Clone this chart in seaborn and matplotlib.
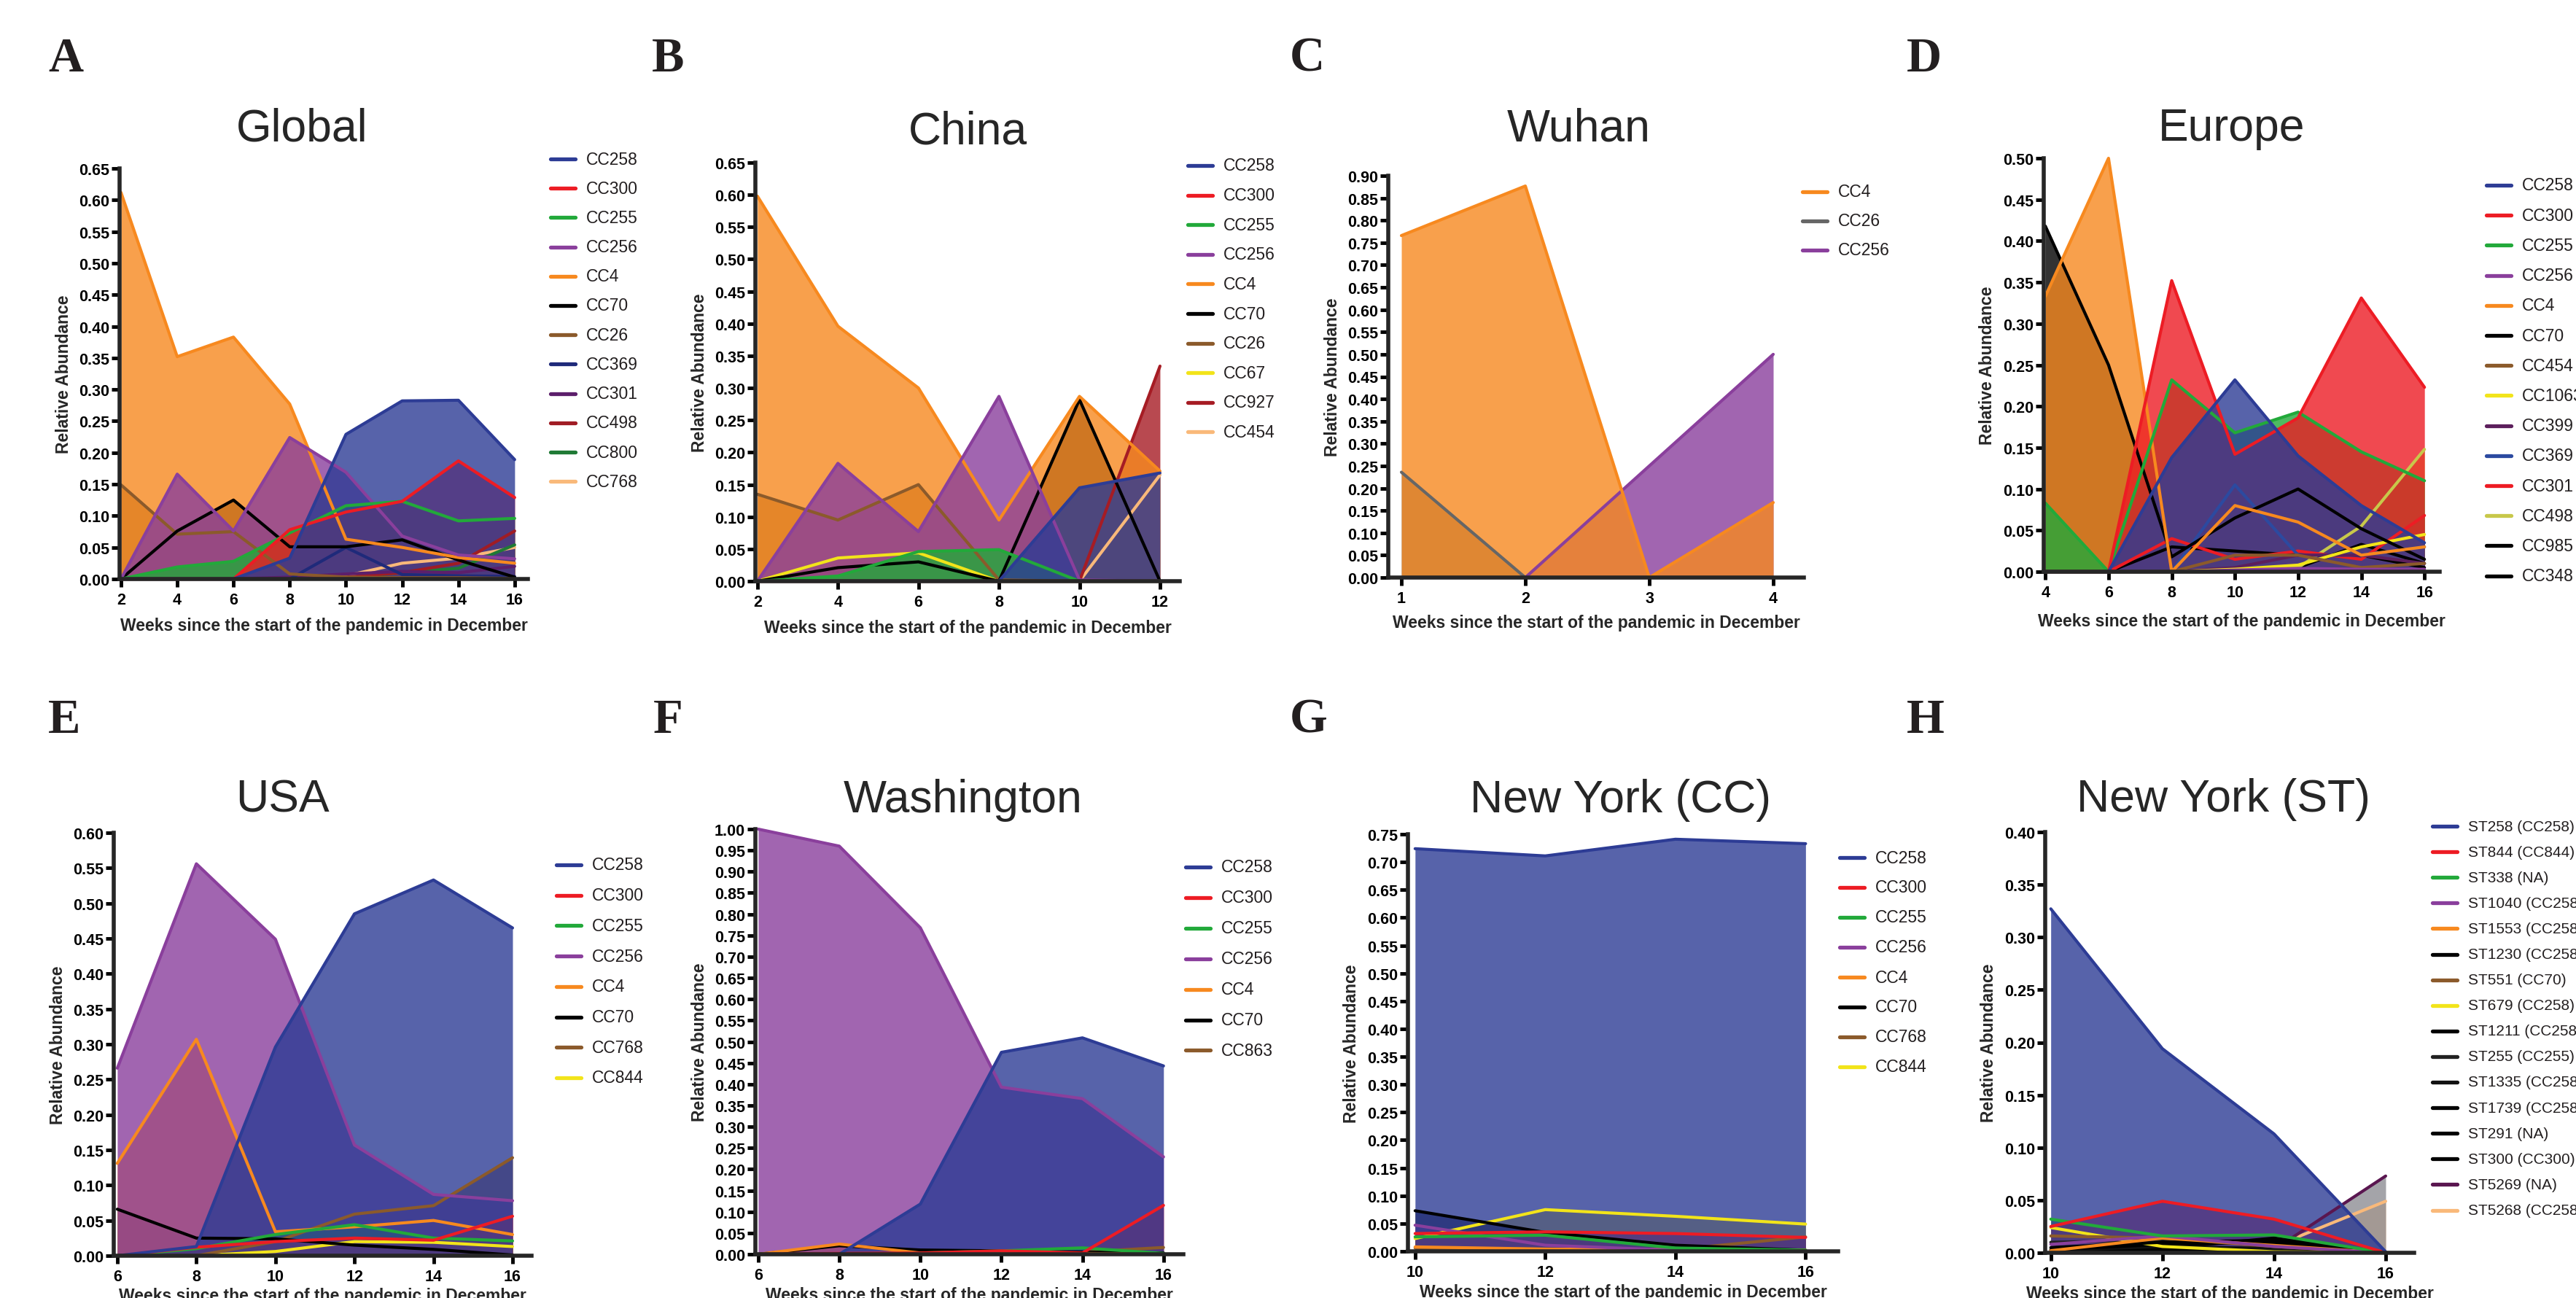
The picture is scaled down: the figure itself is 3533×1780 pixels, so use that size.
import numpy as np
import seaborn as sns
import matplotlib.pyplot as plt
from matplotlib.lines import Line2D

W, H = 3533, 1781

# ---------------- data ----------------
global_weeks = [2, 4, 6, 8, 10, 12, 14, 16]
global_labels = ["CC258", "CC300", "CC255", "CC256", "CC4", "CC70", "CC26",
                 "CC369", "CC301", "CC498", "CC800", "CC768"]
global_values = [
    [0, 0, 0, 0.033, 0.229, 0.282, 0.283, 0.189],
    [0, 0, 0, 0.078, 0.106, 0.123, 0.187, 0.129],
    [0, 0.019, 0.028, 0.073, 0.116, 0.123, 0.092, 0.096],
    [0, 0.166, 0.076, 0.224, 0.169, 0.068, 0.038, 0.032],
    [0.612, 0.352, 0.383, 0.277, 0.063, 0.050, 0.034, 0.025],
    [0, 0.076, 0.125, 0.051, 0.051, 0.062, 0.030, 0.003],
    [0.149, 0.071, 0.075, 0.008, 0.003, 0.002, 0.002, 0.001],
    [0, 0, 0, 0, 0.050, 0.007, 0.005, 0.004],
    [0, 0, 0, 0.003, 0.008, 0.012, 0.010, 0.020],
    [0, 0, 0, 0, 0.003, 0.010, 0.025, 0.076],
    [0, 0, 0, 0, 0.002, 0.010, 0.017, 0.054],
    [0, 0, 0, 0, 0.005, 0.025, 0.033, 0.050],
]

china_weeks = [2, 4, 6, 8, 10, 12]
china_labels = ["CC258", "CC300", "CC255", "CC256", "CC4", "CC70", "CC26",
                "CC67", "CC927", "CC454"]
china_values = [
    [0, 0, 0, 0, 0.145, 0.168],
    [0, 0, 0, 0, 0, 0],
    [0, 0.008, 0.046, 0.049, 0, 0],
    [0, 0.183, 0.077, 0.287, 0.002, 0],
    [0.598, 0.396, 0.300, 0.095, 0.287, 0.171],
    [0, 0.021, 0.030, 0, 0.282, 0],
    [0.135, 0.095, 0.150, 0.002, 0, 0],
    [0, 0.036, 0.044, 0, 0, 0],
    [0, 0, 0, 0, 0, 0.334],
    [0, 0, 0, 0, 0, 0.165],
]

wuhan_weeks = [1, 2, 3, 4]
wuhan_labels = ["CC4", "CC26", "CC256"]
wuhan_values = [
    [0.766, 0.877, 0, 0.168],
    [0.236, 0, 0, 0],
    [0, 0, 0.25, 0.50],
]

europe_weeks = [4, 6, 8, 10, 12, 14, 16]
europe_labels = ["CC258", "CC300", "CC255", "CC256", "CC4", "CC70", "CC454",
                 "CC1063", "CC399", "CC369", "CC301", "CC498", "CC985", "CC348"]
europe_values = [
    [0, 0, 0.138, 0.232, 0.140, 0.080, 0.035],
    [0, 0, 0.352, 0.142, 0.186, 0.331, 0.223],
    [0.083, 0, 0.232, 0.168, 0.193, 0.145, 0.110],
    [0, 0, 0, 0.002, 0.004, 0.003, 0.003],
    [0.333, 0.500, 0, 0.080, 0.060, 0.020, 0.030],
    [0.418, 0.250, 0.018, 0.065, 0.100, 0.052, 0.015],
    [0, 0, 0, 0.020, 0.020, 0.005, 0.010],
    [0, 0, 0, 0.003, 0.008, 0.030, 0.045],
    [0, 0, 0, 0.005, 0.020, 0.020, 0.010],
    [0, 0, 0, 0.105, 0.020, 0.020, 0.030],
    [0, 0, 0.040, 0.015, 0.025, 0.015, 0.068],
    [0, 0, 0, 0, 0.005, 0.055, 0.148],
    [0, 0, 0, 0, 0.005, 0.033, 0.010],
    [0, 0, 0.030, 0.025, 0.020, 0.020, 0.005],
]

usa_weeks = [6, 8, 10, 12, 14, 16]
usa_labels = ["CC258", "CC300", "CC255", "CC256", "CC4", "CC70", "CC768", "CC844"]
usa_values = [
    [0, 0.013, 0.296, 0.485, 0.533, 0.465],
    [0, 0.012, 0.020, 0.025, 0.022, 0.056],
    [0, 0.010, 0.030, 0.044, 0.025, 0.021],
    [0.266, 0.556, 0.449, 0.157, 0.087, 0.078],
    [0.131, 0.307, 0.034, 0.041, 0.050, 0.030],
    [0.066, 0.025, 0.024, 0.015, 0.009, 0.001],
    [0, 0, 0.020, 0.059, 0.071, 0.139],
    [0, 0, 0.006, 0.020, 0.019, 0.013],
]

wash_weeks = [6, 8, 10, 12, 14, 16]
wash_labels = ["CC258", "CC300", "CC255", "CC256", "CC4", "CC70", "CC863"]
wash_values = [
    [0, 0, 0.118, 0.475, 0.509, 0.443],
    [0, 0.002, 0.003, 0.008, 0.003, 0.115],
    [0, 0, 0.003, 0.008, 0.015, 0.002],
    [1.000, 0.960, 0.768, 0.393, 0.366, 0.229],
    [0, 0.024, 0.003, 0.003, 0.002, 0],
    [0, 0.020, 0.010, 0.008, 0.005, 0.003],
    [0, 0, 0, 0, 0.005, 0.016],
]

nycc_weeks = [10, 12, 14, 16]
nycc_labels = ["CC258", "CC300", "CC255", "CC256", "CC4", "CC70", "CC768", "CC844"]
nycc_values = [
    [0.724, 0.711, 0.741, 0.733],
    [0.032, 0.035, 0.032, 0.025],
    [0.026, 0.029, 0.006, 0.002],
    [0.047, 0.011, 0.002, 0.001],
    [0.008, 0.004, 0.003, 0.002],
    [0.073, 0.034, 0.011, 0.002],
    [0.006, 0.004, 0.003, 0.026],
    [0.023, 0.075, 0.063, 0.049],
]

nyst_weeks = [10, 12, 14, 16]
nyst_labels = ["ST258 (CC258)", "ST844 (CC844)", "ST338 (NA)", "ST1040 (CC258)",
               "ST1553 (CC258)", "ST1230 (CC258)", "ST551 (CC70)", "ST679 (CC258)",
               "ST1211 (CC258)", "ST255 (CC255)", "ST1335 (CC258)", "ST1739 (CC258)",
               "ST291 (NA)", "ST300 (CC300)", "ST5269 (NA)", "ST5268 (CC258)"]
nyst_values = [
    [0.327, 0.194, 0.113, 0.001],
    [0.025, 0.049, 0.032, 0],
    [0.032, 0.016, 0.017, 0],
    [0.008, 0.016, 0.006, 0],
    [0.002, 0.014, 0.007, 0],
    [0.005, 0.010, 0.012, 0],
    [0.016, 0.014, 0.006, 0],
    [0.024, 0.006, 0.001, 0],
    [0.003, 0.008, 0.010, 0],
    [0.010, 0.012, 0.008, 0],
    [0.002, 0.006, 0.004, 0],
    [0.001, 0.004, 0.014, 0],
    [0, 0.003, 0.005, 0],
    [0, 0.002, 0.003, 0],
    [0, 0, 0.003, 0.073],
    [0, 0, 0.006, 0.049],
]

# ---------------- styles ----------------
BLUE, RED, GREEN, PURPLE, ORANGE = "#2D3C95", "#ED1C24", "#22A93A", "#8A3F9C", "#F7891F"
BLACK, BROWN, YELLOW, PEACH = "#000000", "#8B5A2B", "#F2E41A", "#F9B97A"

global_colors = [BLUE, RED, GREEN, PURPLE, ORANGE, BLACK, BROWN, "#1F2A7A",
                 "#5C1F6B", "#A01C24", "#1F7A35", PEACH]
china_colors = [BLUE, RED, GREEN, PURPLE, ORANGE, BLACK, BROWN, YELLOW, "#A61C24", PEACH]
wuhan_colors = [ORANGE, "#666666", PURPLE]
europe_colors = [BLUE, RED, GREEN, PURPLE, ORANGE, BLACK, BROWN, YELLOW, "#5C1F5C",
                 "#2C4AA0", RED, "#C8C84A", BLACK, BLACK]
usa_colors = [BLUE, RED, GREEN, PURPLE, ORANGE, BLACK, BROWN, YELLOW]
wash_colors = [BLUE, RED, GREEN, PURPLE, ORANGE, BLACK, BROWN]
nycc_colors = [BLUE, RED, GREEN, PURPLE, ORANGE, BLACK, BROWN, YELLOW]
nyst_colors = [BLUE, RED, GREEN, PURPLE, ORANGE, BLACK, BROWN, YELLOW, BLACK,
               "#222222", "#111111", BLACK, BLACK, BLACK, "#5A1650", PEACH]
nyst_fill = list(nyst_colors)
nyst_fill[14] = "#8E8E94"

panels = [
    dict(letter="A", title="Global", weeks=global_weeks, labels=global_labels,
         values=global_values, colors=global_colors, ymax=0.65,
         box=(164, 724, 232, 795), xlim=(1.95, 16.47), lxy=(66, 98), txy=(414, 194),
         leg=(755, 219, 40.2), legfs=16.5, xl=64),
    dict(letter="B", title="China", weeks=china_weeks, labels=china_labels,
         values=china_values, colors=china_colors, ymax=0.65,
         box=(1036, 1618, 224, 798), xlim=(1.95, 12.49), lxy=(894, 98), txy=(1327, 198),
         leg=(1629, 228, 40.6), legfs=16.5, xl=64),
    dict(letter="C", title="Wuhan", weeks=wuhan_weeks, labels=wuhan_labels,
         values=wuhan_values, colors=wuhan_colors, ymax=0.90,
         box=(1904, 2474, 242, 793), xlim=(0.894, 4.247), lxy=(1769, 98), txy=(2165, 194),
         leg=(2472, 264, 40.0), legfs=16.5, xl=62),
    dict(letter="D", title="Europe", weeks=europe_weeks, labels=europe_labels,
         values=europe_values, colors=europe_colors, ymax=0.50,
         box=(2803, 3346, 218, 785), xlim=(3.95, 16.48), lxy=(2615, 98), txy=(3061, 193),
         leg=(3410, 255, 41.2), legfs=16.5, xl=68),
    dict(letter="E", title="USA", weeks=usa_weeks, labels=usa_labels,
         values=usa_values, colors=usa_colors, ymax=0.60,
         box=(156, 729, 1143, 1723), xlim=(5.91, 16.48), lxy=(66, 1005), txy=(387, 1113),
         leg=(763, 1187, 41.7), legfs=16.5, xl=55),
    dict(letter="F", title="Washington", weeks=wash_weeks, labels=wash_labels,
         values=wash_values, colors=wash_colors, ymax=1.00,
         box=(1036, 1623, 1138, 1721), xlim=(5.93, 16.49), lxy=(896, 1005), txy=(1321, 1114),
         leg=(1626, 1190, 41.9), legfs=16.5, xl=56),
    dict(letter="G", title="New York (CC)", weeks=nycc_weeks, labels=nycc_labels,
         values=nycc_values, colors=nycc_colors, ymax=0.75,
         box=(1931, 2521, 1145, 1717), xlim=(9.89, 16.5), lxy=(1769, 1005), txy=(2222, 1114),
         leg=(2523, 1177, 41.0), legfs=16.5, xl=56),
    dict(letter="H", title="New York (ST)", weeks=nyst_weeks, labels=nyst_labels,
         values=nyst_values, colors=nyst_colors, fills=nyst_fill, ymax=0.40,
         box=(2805, 3311, 1142, 1719), xlim=(9.9, 16.51), lxy=(2615, 1005), txy=(3049, 1113),
         leg=(3336, 1134, 35.1), legfs=15, xl=56),
]

sns.set_style("ticks")
plt.rcParams["font.family"] = ["Liberation Sans", "DejaVu Sans"]

fig = plt.figure(figsize=(W / 100, H / 100), dpi=100)
fig.patch.set_facecolor("white")


def fx(x):
    return x / W


def fy(y):
    return 1 - y / H


for p in panels:
    l, r, t, b = p["box"]
    ax = fig.add_axes([fx(l), fy(b), (r - l) / W, (b - t) / H])
    ax.patch.set_alpha(0)
    weeks = p["weeks"]
    fills = p.get("fills", p["colors"])
    n = len(p["values"])
    # areas: first series ends up on top
    for i in reversed(range(n)):
        ax.fill_between(weeks, 0, p["values"][i], color=fills[i], alpha=0.8, lw=0, zorder=1)
    for i in reversed(range(n)):
        sns.lineplot(x=weeks, y=p["values"][i], color=p["colors"][i], lw=3.0, ax=ax,
                     zorder=2, clip_on=False)
    ax.set_xlim(*p["xlim"])
    ax.set_ylim(0, p["ymax"])
    ax.set_xticks(weeks)
    ax.set_yticks(np.round(np.arange(0, p["ymax"] + 0.001, 0.05), 2))
    ax.yaxis.set_major_formatter("{x:.2f}")
    ax.set_xlabel("")
    ax.set_ylabel("")
    sns.despine(ax=ax)
    for s in ("left", "bottom"):
        ax.spines[s].set_linewidth(4.0)
        ax.spines[s].set_zorder(3)
    ax.tick_params(axis="both", direction="out", length=8, width=3.5, labelsize=15.5,
                   colors="black", pad=2)
    ax.tick_params(axis="x", pad=5)
    plt.setp(ax.get_xticklabels() + ax.get_yticklabels(), fontweight="bold")

    fig.text(fx(l - 77), fy((t + b) / 2), "Relative Abundance", rotation=90,
             ha="center", va="center", fontsize=16.5, fontweight="bold")
    fig.text(fx((l + r) / 2), fy(b + p["xl"]), "Weeks since the start of the pandemic in December",
             ha="center", va="center", fontsize=16.5, fontweight="bold")
    fig.text(fx(p["txy"][0]), fy(p["txy"][1]), p["title"], ha="center", va="baseline",
             fontsize=45)
    fig.text(fx(p["lxy"][0]), fy(p["lxy"][1]), p["letter"], ha="left", va="baseline",
             fontsize=48, fontweight="bold", family=["Liberation Serif", "DejaVu Serif"],
             color="#231F20")

    lx, ly, step = p["leg"]
    for i, (lab, col) in enumerate(zip(p["labels"], p["colors"])):
        yy = ly + i * step
        fig.add_artist(Line2D([fx(lx), fx(lx + 34)], [fy(yy), fy(yy)], color=col, lw=3.8))
        fig.text(fx(lx + 49), fy(yy), lab, ha="left", va="center",
                 fontsize=p["legfs"], color="#231F20")

fig.savefig("out.png", dpi=100)
